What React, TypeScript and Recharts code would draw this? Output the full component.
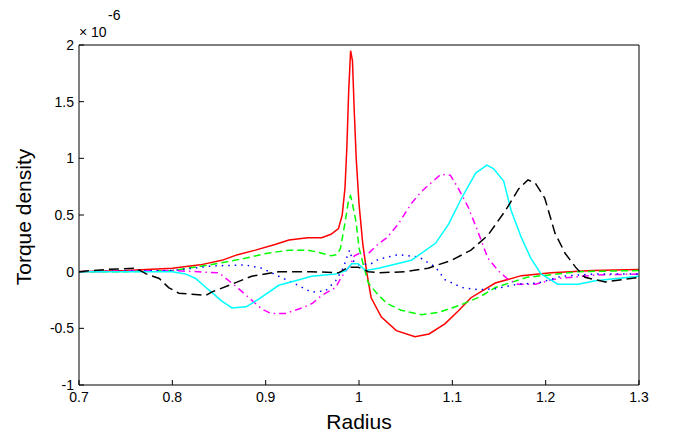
import { LineChart, Line, XAxis, YAxis } from "recharts";

// torque density curves, y in units of 1e-6
const red: [number, number][] = [
  [0.7, 0], [0.75, 0.01], [0.8, 0.03], [0.83, 0.06], [0.853, 0.1], [0.87, 0.15],
  [0.889, 0.19], [0.91, 0.24], [0.925, 0.28], [0.945, 0.3], [0.96, 0.3], [0.97, 0.33],
  [0.978, 0.38], [0.982, 0.5], [0.985, 0.74], [0.987, 1.1], [0.989, 1.6], [0.991, 1.95],
  [0.993, 1.86], [0.995, 1.4], [0.997, 1.0], [1.0, 0.6], [1.004, 0.25], [1.008, 0.01],
  [1.013, -0.23], [1.024, -0.4], [1.04, -0.52], [1.06, -0.575], [1.075, -0.55],
  [1.092, -0.46], [1.106, -0.35], [1.12, -0.23], [1.146, -0.1], [1.174, -0.035],
  [1.206, -0.01], [1.25, 0.01], [1.3, 0.02],
];

const green: [number, number][] = [
  [0.7, 0], [0.75, 0], [0.8, 0.01], [0.84, 0.06], [0.879, 0.12], [0.9, 0.16],
  [0.925, 0.19], [0.945, 0.19], [0.957, 0.17], [0.97, 0.14], [0.976, 0.15], [0.98, 0.2],
  [0.985, 0.43], [0.989, 0.64], [0.991, 0.67], [0.993, 0.6], [0.997, 0.43], [1.0, 0.21],
  [1.005, 0.05], [1.01, -0.1], [1.02, -0.2], [1.03, -0.28], [1.045, -0.34], [1.067, -0.38],
  [1.085, -0.36], [1.11, -0.29], [1.13, -0.22], [1.146, -0.14], [1.18, -0.05],
  [1.235, 0], [1.3, 0.01],
];

const magenta: [number, number][] = [
  [0.7, 0], [0.8, 0.01], [0.85, -0.01], [0.871, -0.15], [0.882, -0.23], [0.896, -0.33],
  [0.906, -0.37], [0.921, -0.37], [0.939, -0.32], [0.95, -0.28], [0.96, -0.21],
  [0.975, -0.14], [0.981, -0.05], [0.99, 0.05], [0.995, 0.14], [1.0, 0.16], [1.01, 0.16],
  [1.02, 0.24], [1.03, 0.3], [1.042, 0.42], [1.056, 0.6], [1.066, 0.7], [1.078, 0.79],
  [1.088, 0.86], [1.098, 0.85], [1.106, 0.74], [1.117, 0.57], [1.128, 0.34],
  [1.138, 0.12], [1.149, 0.01], [1.16, -0.07], [1.17, -0.11], [1.189, -0.11],
  [1.213, -0.06], [1.253, -0.03], [1.3, -0.02],
];

const blue: [number, number][] = [
  [0.7, 0], [0.8, 0.01], [0.842, 0.05], [0.878, 0.06], [0.896, 0.03], [0.914, -0.04],
  [0.932, -0.11], [0.949, -0.18], [0.964, -0.17], [0.975, -0.08], [0.983, 0.03],
  [0.988, 0.15], [0.99, 0.19], [0.993, 0.1], [1.0, 0.06], [1.013, 0.07], [1.021, 0.11],
  [1.042, 0.15], [1.064, 0.13], [1.082, 0.04], [1.092, -0.07], [1.11, -0.14],
  [1.128, -0.16], [1.146, -0.15], [1.17, -0.11], [1.192, -0.1], [1.217, -0.04],
  [1.253, -0.02], [1.3, -0.02],
];

const cyan: [number, number][] = [
  [0.7, 0], [0.76, 0], [0.8, 0], [0.814, -0.02], [0.825, -0.06], [0.836, -0.14],
  [0.842, -0.18], [0.853, -0.26], [0.864, -0.32], [0.879, -0.31], [0.893, -0.24],
  [0.914, -0.12], [0.932, -0.08], [0.949, -0.04], [0.975, -0.02], [0.986, 0.01],
  [0.992, 0.07], [0.999, 0.07], [1.007, 0.01], [1.021, 0.03], [1.056, 0.1], [1.082, 0.25],
  [1.096, 0.42], [1.11, 0.65], [1.125, 0.87], [1.137, 0.94], [1.144, 0.91], [1.155, 0.8],
  [1.163, 0.54], [1.174, 0.3], [1.184, 0.12], [1.195, -0.02], [1.213, -0.11],
  [1.235, -0.11], [1.253, -0.08], [1.3, -0.04],
];

const black: [number, number][] = [
  [0.7, 0], [0.73, 0.02], [0.761, 0.03], [0.772, -0.02], [0.786, -0.06], [0.796, -0.14],
  [0.807, -0.19], [0.821, -0.2], [0.836, -0.21], [0.842, -0.18], [0.864, -0.11],
  [0.885, -0.04], [0.914, 0], [0.949, 0], [0.978, -0.01], [0.989, 0.04], [0.999, 0.04],
  [1.01, 0], [1.021, -0.01], [1.05, 0], [1.074, 0.03], [1.099, 0.1], [1.12, 0.19],
  [1.138, 0.32], [1.157, 0.54], [1.171, 0.73], [1.181, 0.81], [1.189, 0.78],
  [1.199, 0.65], [1.21, 0.34], [1.221, 0.16], [1.232, 0.04], [1.242, -0.05],
  [1.264, -0.09], [1.3, -0.05],
];

const xTicks = [0.7, 0.8, 0.9, 1, 1.1, 1.2, 1.3];
const yTicks = [-1, -0.5, 0, 0.5, 1, 1.5, 2];

const toPoints = (pts: [number, number][]) => pts.map(([x, y]) => ({ x, y }));

// cyan and black are bound to the top/right axes so those (box) axes get drawn too
const series = [
  { name: "red", pts: red, color: "#ff0000", dash: undefined, alt: false },
  { name: "green", pts: green, color: "#00ff00", dash: "7 4", alt: false },
  { name: "magenta", pts: magenta, color: "#ff00ff", dash: "7 4 1.5 4", alt: false },
  { name: "blue", pts: blue, color: "#0000ff", dash: "1.5 5", alt: false },
  { name: "cyan", pts: cyan, color: "#00ffff", dash: undefined, alt: true },
  { name: "black", pts: black, color: "#000000", dash: "10 5", alt: true },
];

const font = "'Liberation Sans', Arial, Helvetica, sans-serif";
const tickStyle = { fontSize: 14, fill: "#000", fontFamily: font };

export default function App() {
  return (
    <div style={{ position: "absolute", left: 0, top: 0, width: 683, height: 435, background: "#fff" }}>
      <LineChart width={683} height={435} margin={{ top: 44, right: 43, bottom: 0, left: 0 }}>
        <XAxis
          dataKey="x"
          type="number"
          domain={[0.7, 1.3]}
          ticks={xTicks}
          allowDataOverflow
          height={50}
          tickSize={-5}
          tickMargin={12}
          tick={tickStyle}
          stroke="#000"
          tickFormatter={(v) => String(v)}
        />
        <XAxis
          xAxisId="top"
          dataKey="x"
          orientation="top"
          type="number"
          domain={[0.7, 1.3]}
          ticks={xTicks}
          allowDataOverflow
          height={1}
          tickSize={-5}
          tick={false}
          stroke="#000"
        />
        <YAxis
          type="number"
          domain={[-1, 2]}
          ticks={yTicks}
          allowDataOverflow
          width={79}
          tickSize={-5}
          tickMargin={10}
          tick={tickStyle}
          stroke="#000"
        />
        <YAxis
          yAxisId="right"
          orientation="right"
          type="number"
          domain={[-1, 2]}
          ticks={yTicks}
          allowDataOverflow
          width={1}
          tickSize={-5}
          tick={false}
          stroke="#000"
        />
        {series.map((s) => (
          <Line
            key={s.name}
            data={toPoints(s.pts)}
            dataKey="y"
            xAxisId={s.alt ? "top" : 0}
            yAxisId={s.alt ? "right" : 0}
            type="linear"
            stroke={s.color}
            strokeWidth={1.5}
            strokeDasharray={s.dash}
            dot={false}
            isAnimationActive={false}
          />
        ))}
      </LineChart>
      <svg
        width={683}
        height={435}
        style={{ position: "absolute", left: 0, top: 0, pointerEvents: "none" }}
      >
        <text x={79} y={37} fontSize={14} fontFamily={font} fill="#000">× 10</text>
        <text x={108} y={20} fontSize={14} fontFamily={font} fill="#000">-6</text>
        <text x={359} y={429} fontSize={21} fontFamily={font} fill="#000" textAnchor="middle">
          Radius
        </text>
        <text
          x={23}
          y={217}
          fontSize={21}
          fontFamily={font}
          fill="#000"
          textAnchor="middle"
          dominantBaseline="central"
          transform="rotate(-90 23 217)"
        >
          Torque density
        </text>
      </svg>
    </div>
  );
}
